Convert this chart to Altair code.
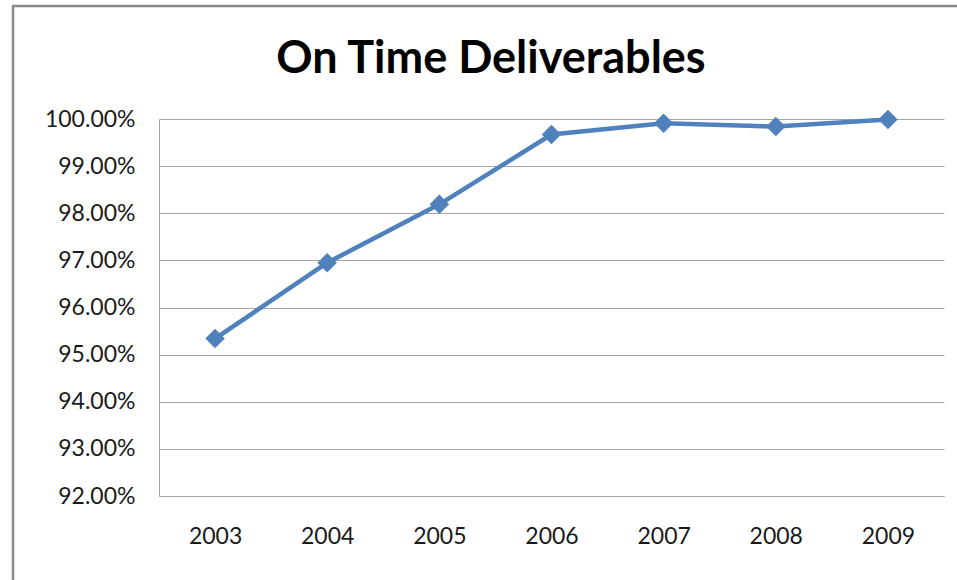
import altair as alt
import pandas as pd

title_text = ["On Time Deliverables"]
years = ["2003", "2004", "2005", "2006", "2007", "2008", "2009"]
on_time = [0.9534, 0.9695, 0.9819, 0.9967, 0.9991, 0.9984, 0.9999]
y_ticks = [0.92, 0.93, 0.94, 0.95, 0.96, 0.97, 0.98, 0.99, 1.00]

df = pd.DataFrame({"year": years, "pct": on_time})
one = pd.DataFrame({"t": title_text})

FONT = "Lato"
BLUE = "#4F81BD"
GRID = "#A6A6A6"

x_enc = alt.X("year:N", sort=years, title=None,
              scale=alt.Scale(paddingInner=0, paddingOuter=0.5),
              axis=alt.Axis(labelAngle=0, ticks=False, grid=False, domainColor=GRID,
                            labelPadding=29, labelFontSize=23, labelFont=FONT,
                            labelColor="#1a1a1a"))
y_enc = alt.Y("pct:Q", title=None,
              scale=alt.Scale(domain=[0.92, 1.0], nice=False, zero=False),
              axis=alt.Axis(values=y_ticks, format=".2%", ticks=False, grid=True,
                            gridColor=GRID, gridWidth=1.2, domainColor=GRID,
                            labelPadding=24, labelFontSize=23, labelFont=FONT,
                            labelColor="#1a1a1a"))

line = alt.Chart(df).mark_line(color=BLUE, strokeWidth=4.5).encode(x=x_enc, y=y_enc)
points = alt.Chart(df).mark_point(shape="diamond", filled=True, color=BLUE,
                                  size=380, opacity=1).encode(x=x_enc, y=y_enc)

frame_left = alt.Chart(one).mark_rule(color="#8c8c8c", strokeWidth=2.5).encode(
    x=alt.value(-146), y=alt.value(-113), y2=alt.value(470))
frame_top = alt.Chart(one).mark_rule(color="#8c8c8c", strokeWidth=2.5).encode(
    x=alt.value(-147), x2=alt.value(810), y=alt.value(-113))

title = alt.Chart(one).mark_text(font=FONT, fontSize=45, fontWeight="bold",
                                 color="#000000", align="center",
                                 baseline="alphabetic").encode(
    text="t:N", x=alt.value(332), y=alt.value(-46))

chart = alt.layer(frame_left, frame_top, line, points, title).properties(
    width=785, height=377,
    autosize=alt.AutoSizeParams(type="none"),
    padding={"left": 159, "top": 119, "right": 13, "bottom": 84},
).configure_view(stroke=None)

chart.save("out.html", embed_options={"renderer": "svg", "actions": False})
